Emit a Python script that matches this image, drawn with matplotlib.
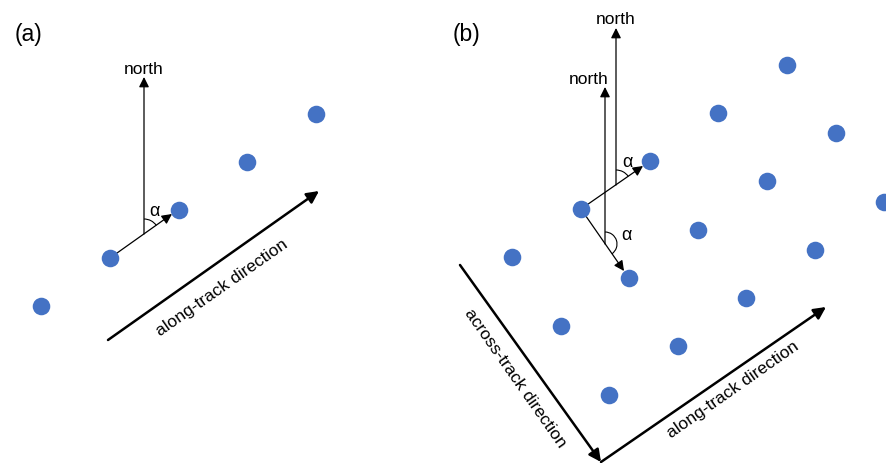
import matplotlib.pyplot as plt
from matplotlib.patches import Arc

plt.rcParams['font.family'] = ['Liberation Sans', 'DejaVu Sans']

# dot positions (pixels, y down)
dots_a_x = [41, 110, 179, 247, 316]
dots_a_y = [307, 259, 211, 163, 115]

dots_b_x = [512, 581, 650, 718, 787,
            561, 629, 698, 767, 836,
            609, 678, 746, 815, 884]
dots_b_y = [258, 210, 162, 114, 66,
            327, 279, 231, 182, 134,
            396, 347, 299, 251, 203]

dot_color = '#4472C4'


def arrow(ax, start, end, lw=0.9, scale=15, color='black'):
    ax.annotate('', xy=end, xytext=start,
                arrowprops=dict(arrowstyle='-|>', color=color, lw=lw,
                                mutation_scale=scale, shrinkA=0, shrinkB=0),
                zorder=2)


fig = plt.figure(figsize=(8.86, 4.64), dpi=100)
ax = fig.add_axes([0, 0, 1, 1])
ax.set_xlim(0, 886)
ax.set_ylim(464, 0)
ax.axis('off')

ax.scatter(dots_a_x, dots_a_y, s=160, color=dot_color, zorder=3, linewidths=0)
ax.scatter(dots_b_x, dots_b_y, s=160, color=dot_color, zorder=3, linewidths=0)

# panel labels
ax.text(15, 35, '(a)', fontsize=16.5, va='center', ha='left')
ax.text(453, 35, '(b)', fontsize=16.5, va='center', ha='left')

# ---- panel (a)
arrow(ax, (110, 259), (172, 215))
arrow(ax, (144, 235), (144, 78))
ax.text(144, 70, 'north', fontsize=12.5, ha='center', va='center')
ax.add_patch(Arc((144, 235), 30, 30, theta1=-90, theta2=-35, color='black', lw=0.8))
ax.text(154, 212, 'α', fontsize=13, ha='center', va='center')

arrow(ax, (108, 341), (319, 192), lw=1.8, scale=18)
ax.text(222, 288, 'along-track direction', fontsize=12.5, rotation=35,
        ha='center', va='center', rotation_mode='anchor')

# ---- panel (b)
arrow(ax, (581, 210), (643, 167))
arrow(ax, (581, 210), (624, 272))
arrow(ax, (616, 186), (616, 29))
ax.text(616, 20, 'north', fontsize=12.5, ha='center', va='center')
arrow(ax, (605, 245), (605, 88))
ax.text(589, 80, 'north', fontsize=12.5, ha='center', va='center')

ax.add_patch(Arc((616, 186), 30, 30, theta1=-90, theta2=-35, color='black', lw=0.8))
ax.text(627, 163, 'α', fontsize=13, ha='center', va='center')
ax.add_patch(Arc((605, 245), 24, 24, theta1=-90, theta2=55, color='black', lw=0.8))
ax.text(626, 236, 'α', fontsize=13, ha='center', va='center')

arrow(ax, (460, 266), (601, 463), lw=1.8, scale=18)
arrow(ax, (601, 463), (826, 308), lw=1.8, scale=18)
ax.text(515, 378, 'across-track direction', fontsize=12.5, rotation=-55,
        ha='center', va='center', rotation_mode='anchor')
ax.text(733, 390, 'along-track direction', fontsize=12.5, rotation=35,
        ha='center', va='center', rotation_mode='anchor')

fig.savefig('out.png', dpi=100)
